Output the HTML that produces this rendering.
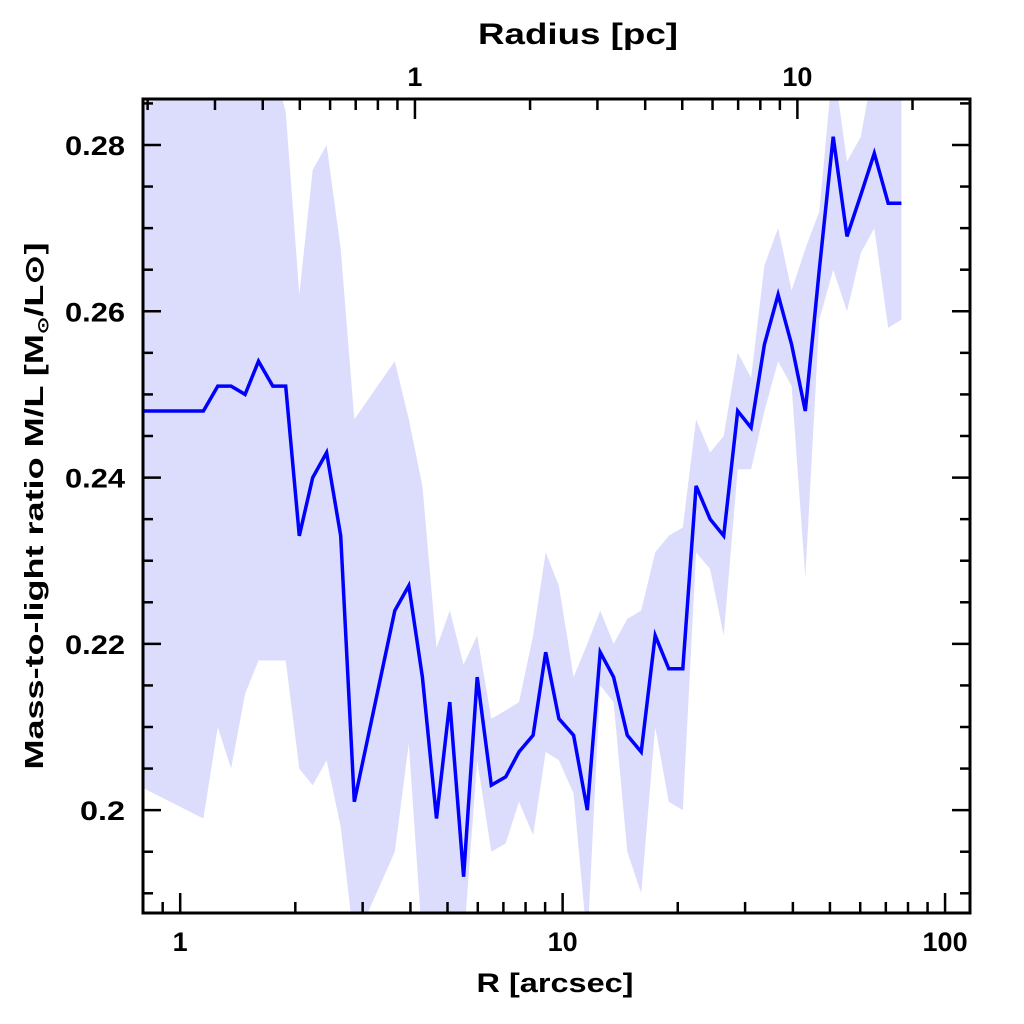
<!DOCTYPE html>
<html><head><meta charset="utf-8"><style>
html,body{margin:0;padding:0;background:#fff;width:1024px;height:1024px;overflow:hidden}
svg text{font-family:"Liberation Sans",sans-serif;font-weight:bold;fill:#000}
</style></head><body>
<svg id="chart" width="1024" height="1024" viewBox="0 0 1024 1024" xmlns="http://www.w3.org/2000/svg">
<defs><clipPath id="pc"><rect x="143" y="99" width="827" height="814"/></clipPath></defs>
<g id="band" clip-path="url(#pc)"></g>
<g id="line" clip-path="url(#pc)"></g>
<g id="axes"></g>
<rect x="143" y="99" width="827" height="814" fill="none" stroke="#000" stroke-width="3"/>
<text x="555" y="992" font-size="27" text-anchor="middle" textLength="157" lengthAdjust="spacingAndGlyphs">R [arcsec]</text>
<text x="578" y="44" font-size="30" text-anchor="middle" textLength="200" lengthAdjust="spacingAndGlyphs">Radius [pc]</text>
<text transform="translate(43,506) rotate(-90)" font-size="26" text-anchor="middle" textLength="527" lengthAdjust="spacingAndGlyphs">Mass-to-light ratio M/L [M<tspan font-size="15" dy="5">⊙</tspan><tspan dy="-5">/L⊙]</tspan></text>
</svg>
<script>
const radius = [0.70,1.15,1.254,1.359,1.478,1.602,1.746,1.887,2.049,2.221,2.415,2.628,2.853,3.64,3.96,4.30,4.68,5.07,5.51,5.98,6.51,7.10,7.69,8.37,9.03,9.78,10.68,11.6,12.54,13.59,14.76,16.05,17.46,18.95,20.62,22.34,24.3,26.38,28.69,31.1,33.7,36.6,39.7,43.1,46.9,51.0,55.4,60.2,65.3,71.0,76.9];
const mlValues = [0.248,0.248,0.251,0.251,0.250,0.254,0.251,0.251,0.233,0.240,0.243,0.233,0.201,0.224,0.227,0.216,0.199,0.213,0.192,0.216,0.203,0.204,0.207,0.209,0.219,0.211,0.209,0.200,0.219,0.216,0.209,0.207,0.221,0.217,0.217,0.239,0.235,0.233,0.248,0.246,0.256,0.262,0.256,0.248,0.265,0.281,0.269,0.274,0.279,0.273,0.273];
const mlUpper = [0.29,0.29,0.29,0.29,0.29,0.29,0.29,0.284,0.262,0.277,0.280,0.2675,0.247,0.254,0.247,0.239,0.2195,0.224,0.2175,0.221,0.211,0.212,0.213,0.221,0.231,0.227,0.216,0.220,0.224,0.220,0.223,0.224,0.231,0.233,0.234,0.247,0.243,0.245,0.255,0.252,0.2655,0.270,0.2625,0.2675,0.272,0.29,0.278,0.281,0.29,0.29,0.29];
const mlLower = [0.204,0.199,0.210,0.205,0.214,0.218,0.218,0.218,0.205,0.203,0.206,0.198,0.184,0.195,0.208,0.184,0.184,0.184,0.184,0.206,0.195,0.196,0.201,0.197,0.207,0.206,0.202,0.184,0.215,0.213,0.195,0.190,0.210,0.201,0.200,0.231,0.229,0.221,0.241,0.241,0.248,0.254,0.251,0.228,0.259,0.265,0.260,0.267,0.270,0.258,0.259];
const yTickLabels = ["0.2","0.22","0.24","0.26","0.28"];
const yTickValues = [0.20,0.22,0.24,0.26,0.28];
const xTickLabels = ["1","10","100"];
const xTickValues = [1,10,100];
const pcTickLabels = ["1","10"];
const pcTickValues = [1,10];
const arcsecPerPc = 4.11;

const NS="http://www.w3.org/2000/svg";
const X0=143,X1=970,Y0=99,Y1=913;
const xMin=Math.log10(0.7994),xMax=Math.log10(116.2);
const yMin=0.18763,yMax=0.28553;
function xs(v){return X0+(Math.log10(v)-xMin)/(xMax-xMin)*(X1-X0);}
function ys(v){return Y1-(v-yMin)/(yMax-yMin)*(Y1-Y0);}
function mk(tag,attrs,parent){const e=document.createElementNS(NS,tag);for(const k in attrs)e.setAttribute(k,attrs[k]);parent.appendChild(e);return e;}

const band=document.getElementById('band');
let d='';
radius.forEach((r,i)=>{d+=(i?'L':'M')+xs(r).toFixed(1)+','+ys(mlUpper[i]).toFixed(1);});
for(let i=radius.length-1;i>=0;i--){d+='L'+xs(radius[i]).toFixed(1)+','+ys(mlLower[i]).toFixed(1);}
const bp=mk('path',{d:d+'Z',fill:'#dcdcfc',stroke:'none'},band);



const line=document.getElementById('line');
const pts=radius.map((r,i)=>xs(r).toFixed(1)+','+ys(mlValues[i]).toFixed(1)).join(' ');
const pl=mk('polyline',{points:pts,fill:'none',stroke:'#0000ff','stroke-width':3.5,'stroke-linejoin':'miter'},line);



const ax=document.getElementById('axes');
for(let k=0;k<=20;k++){
  const v=0.19+k*0.005; if(v<yMin||v>yMax) continue;
  const y=ys(v); const r=Math.round(v*1000)%20; const major=(r===0);
  const len=major?18:10;
  const t1=mk('line',{x1:X0,y1:y,x2:X0+len,y2:y,stroke:'#000','stroke-width':2.5},ax);
  
  
  const t2=mk('line',{x1:X1,y1:y,x2:X1-len,y2:y,stroke:'#000','stroke-width':2.5},ax);
  
  
}
yTickValues.forEach((v,i)=>{
  const t=mk('text',{x:125,y:ys(v)+10,'font-size':27,'text-anchor':'end',textLength:(yTickLabels[i].length*15).toString(),lengthAdjust:'spacingAndGlyphs'},ax);
  t.textContent=yTickLabels[i];
  
  
});
for(let dec=0.1;dec<=100;dec*=10){
  for(let m=1;m<=9;m++){
    const v=dec*m; const lv=Math.log10(v); if(lv<xMin||lv>xMax) continue;
    const x=xs(v); const len=m===1?20:11;
    const t=mk('line',{x1:x,y1:Y1,x2:x,y2:Y1-len,stroke:'#000','stroke-width':2.5},ax);
    
    
  }
}
xTickValues.forEach((v,i)=>{
  const t=mk('text',{x:xs(v),y:951,'font-size':27,'text-anchor':'middle'},ax);
  t.textContent=xTickLabels[i];
  
  
});
for(let dec=0.1;dec<=10;dec*=10){
  for(let m=1;m<=9;m++){
    const v=dec*m*arcsecPerPc; const lv=Math.log10(v); if(lv<xMin||lv>xMax) continue;
    const x=xs(v); const len=m===1?20:11;
    const t=mk('line',{x1:x,y1:Y0,x2:x,y2:Y0+len,stroke:'#000','stroke-width':2.5},ax);
    
    
  }
}
pcTickValues.forEach((v,i)=>{
  const t=mk('text',{x:xs(v*arcsecPerPc),y:86,'font-size':27,'text-anchor':'middle'},ax);
  t.textContent=pcTickLabels[i];
  
  
});
</script>
</body></html>
